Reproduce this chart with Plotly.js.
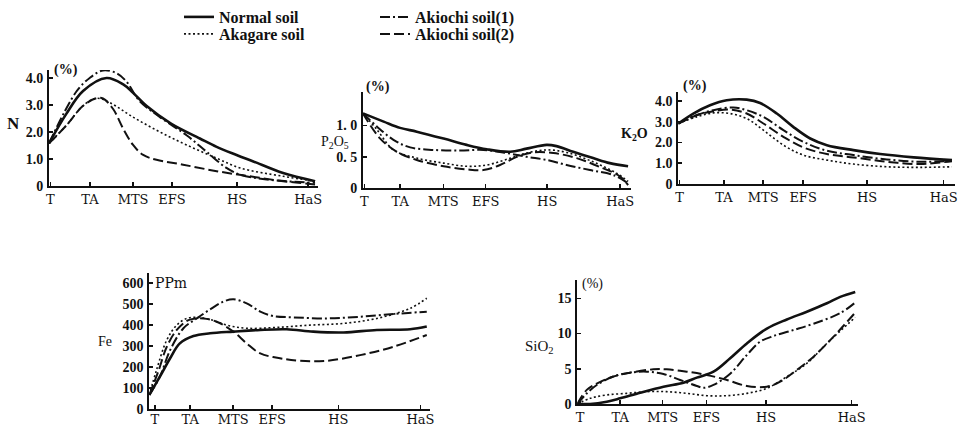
<!DOCTYPE html>
<html>
<head>
<meta charset="utf-8">
<script src="https://cdn.plot.ly/plotly-3.0.1.min.js"></script>
<style>html,body{margin:0;padding:0;background:#fff;}#chart{width:959px;height:429px;}</style>
</head>
<body>
<div id="chart"></div>
<script>
// Growth-stage tick labels and their positions on each panel (stage units, T = 0 … HaS = 10)
const stageLabels = ['T', 'TA', 'MTS', 'EFS', 'HS', 'HaS'];
const nStageTicks = [0.05, 1.54, 3.16, 4.62, 7.07, 9.74];
const pStageTicks = [0.05, 1.4, 3.03, 4.63, 6.95, 9.7];
const kStageTicks = [0.05, 1.67, 3.1, 4.56, 6.9, 9.7];
const feStageTicks = [0.2, 1.47, 3.02, 4.43, 6.81, 9.77];
const siStageTicks = [0.1, 1.54, 3.07, 4.65, 6.79, 9.87];
const seriesNames = ['Normal soil', 'Akagare soil', 'Akiochi soil(1)', 'Akiochi soil(2)'];

// ---- N (%) ----
const nNormalX = [0, 0.65, 1.28, 2.16, 2.79, 3.16, 3.66, 4.6, 5.67, 6.3, 7.05, 7.68, 8.8, 10];
const nNormalY = [1.58, 2.67, 3.52, 4.0, 3.76, 3.45, 2.97, 2.3, 1.76, 1.45, 1.15, 0.91, 0.48, 0.18];
const nAkagareX = [0, 0.65, 1.28, 1.78, 2.28, 3.16, 4.17, 5.17, 6.3, 7.18, 8.8, 10];
const nAkagareY = [1.58, 2.24, 2.97, 3.25, 3.09, 2.55, 2.0, 1.52, 1.03, 0.67, 0.36, 0.18];
const nAkiochi1X = [0, 1.03, 1.53, 2.03, 2.53, 2.9, 3.4, 4.17, 5.17, 5.92, 6.67, 7.18, 8.18, 10];
const nAkiochi1Y = [1.58, 3.5, 4.0, 4.28, 4.18, 3.88, 3.15, 2.55, 1.88, 1.27, 0.67, 0.42, 0.24, 0.12];
const nAkiochi2X = [0, 0.65, 1.28, 1.78, 2.03, 2.41, 2.79, 3.16, 3.54, 4.04, 5.04, 6.3, 7.55, 8.8, 10];
const nAkiochi2Y = [1.58, 2.24, 2.97, 3.25, 3.24, 2.85, 2.12, 1.52, 1.15, 0.97, 0.79, 0.55, 0.36, 0.18, 0.06];

// ---- P2O5 (%) ----
const pNormalX = [0, 0.78, 1.4, 2.03, 3.04, 3.91, 4.67, 5.55, 6.17, 6.93, 7.3, 7.93, 8.68, 9.31, 10];
const pNormalY = [1.19, 1.06, 0.96, 0.9, 0.79, 0.69, 0.62, 0.58, 0.63, 0.69, 0.67, 0.58, 0.48, 0.4, 0.35];
const pAkagareX = [0, 0.53, 1.15, 2.03, 3.04, 3.91, 4.67, 5.42, 6.17, 6.93, 7.68, 8.68, 9.56, 10];
const pAkagareY = [1.19, 0.93, 0.61, 0.48, 0.4, 0.35, 0.37, 0.46, 0.56, 0.61, 0.57, 0.42, 0.24, 0.11];
const pAkiochi1X = [0, 0.53, 1.15, 1.78, 2.66, 3.66, 4.54, 5.42, 6.17, 6.93, 7.68, 8.56, 9.44, 10];
const pAkiochi1Y = [1.19, 0.98, 0.77, 0.65, 0.61, 0.6, 0.61, 0.56, 0.5, 0.45, 0.37, 0.29, 0.21, 0.08];
const pAkiochi2X = [0, 0.65, 1.28, 2.03, 3.04, 3.91, 4.54, 5.17, 5.8, 6.42, 7.18, 8.06, 8.93, 9.69, 10];
const pAkiochi2Y = [1.19, 0.79, 0.58, 0.45, 0.35, 0.3, 0.29, 0.37, 0.5, 0.57, 0.56, 0.48, 0.34, 0.19, 0.05];

// ---- K2O (%) ----
const kNormalX = [0, 0.55, 1.16, 1.77, 2.5, 2.99, 3.6, 4.2, 4.82, 5.43, 6.4, 7.38, 8.6, 10];
const kNormalY = [2.91, 3.39, 3.79, 4.03, 4.06, 3.9, 3.39, 2.75, 2.19, 1.87, 1.63, 1.44, 1.28, 1.15];
const kAkagareX = [0, 0.67, 1.28, 1.89, 2.5, 3.11, 3.84, 4.57, 5.43, 6.4, 7.62, 8.84, 10];
const kAkagareY = [2.91, 3.23, 3.42, 3.39, 3.15, 2.59, 1.87, 1.39, 1.15, 0.96, 0.83, 0.8, 0.83];
const kAkiochi1X = [0, 0.67, 1.28, 2.01, 2.5, 3.11, 3.84, 4.57, 5.43, 6.4, 7.62, 8.84, 10];
const kAkiochi1Y = [2.91, 3.31, 3.55, 3.68, 3.55, 3.23, 2.59, 2.03, 1.6, 1.39, 1.18, 1.07, 1.12];
const kAkiochi2X = [0, 0.67, 1.28, 1.89, 2.5, 3.11, 3.84, 4.57, 5.43, 6.4, 7.62, 8.84, 10];
const kAkiochi2Y = [2.91, 3.31, 3.5, 3.58, 3.39, 2.91, 2.27, 1.76, 1.44, 1.28, 1.07, 0.96, 1.1];

// ---- Fe (ppm) ----
const feNormalX = [0, 0.38, 0.75, 1.1, 1.59, 2.19, 3.03, 4.0, 4.95, 5.91, 7.0, 8.2, 9.4, 10];
const feNormalY = [67, 154, 242, 313, 348, 361, 369, 377, 380, 369, 365, 377, 380, 393];
const feAkagareX = [0, 0.26, 0.63, 0.99, 1.35, 1.71, 2.19, 2.79, 3.51, 4.59, 5.79, 7.0, 8.2, 9.4, 10];
const feAkagareY = [67, 186, 329, 400, 432, 437, 427, 400, 385, 389, 400, 408, 432, 480, 528];
const feAkiochi1X = [0, 0.38, 0.75, 1.23, 1.71, 2.19, 2.67, 3.03, 3.51, 4.0, 4.47, 5.19, 6.39, 7.6, 8.8, 10];
const feAkiochi1Y = [67, 154, 281, 385, 432, 475, 512, 523, 504, 464, 443, 437, 432, 440, 453, 464];
const feAkiochi2X = [0, 0.32, 0.63, 0.99, 1.41, 1.95, 2.43, 3.03, 3.51, 4.0, 4.71, 5.43, 6.39, 7.6, 8.8, 10];
const feAkiochi2Y = [67, 178, 297, 377, 424, 432, 416, 369, 313, 265, 242, 230, 230, 257, 297, 353];

// ---- SiO2 (%) ----
const siNormalX = [0, 0.46, 1.06, 1.54, 2.26, 3.1, 3.82, 4.3, 4.9, 5.5, 6.1, 6.82, 7.54, 8.26, 8.98, 9.46, 10];
const siNormalY = [0, 0, 0.33, 0.8, 1.6, 2.46, 3.03, 3.74, 4.59, 6.5, 8.6, 10.7, 12.0, 13.1, 14.3, 15.2, 15.9];
const siAkagareX = [0, 0.46, 1.06, 1.78, 2.5, 3.22, 3.94, 4.66, 5.38, 6.1, 6.82, 7.54, 8.26, 8.98, 10];
const siAkagareY = [0, 0.8, 1.28, 1.51, 1.75, 1.75, 1.51, 1.18, 1.18, 1.51, 2.22, 3.88, 5.77, 8.6, 12.3];
const siAkiochi1X = [0, 0.34, 0.7, 1.3, 1.9, 2.5, 3.1, 3.7, 4.3, 4.54, 4.9, 5.5, 6.1, 6.58, 7.06, 7.78, 8.5, 9.46, 10];
const siAkiochi1Y = [0, 1.5, 2.7, 3.9, 4.45, 4.59, 4.26, 3.41, 2.56, 2.3, 2.7, 4.3, 6.96, 8.85, 9.65, 10.5, 11.4, 12.9, 14.4];
const siAkiochi2X = [0, 0.34, 0.7, 1.3, 1.9, 2.74, 3.22, 3.94, 4.66, 5.38, 6.1, 6.82, 7.3, 7.9, 8.5, 9.22, 10];
const siAkiochi2Y = [0, 2.0, 2.9, 3.9, 4.45, 4.92, 4.92, 4.59, 4.12, 3.41, 2.56, 2.46, 3.17, 4.83, 6.72, 9.56, 12.97];

// ---- styles ----
const lineStyles = [
  {color: '#111', width: 2.6, dash: 'solid'},
  {color: '#111', width: 1.6, dash: '2px,2.5px'},
  {color: '#111', width: 2, dash: '10px,3px,2px,3px'},
  {color: '#111', width: 2, dash: '10px,4px'}
];
// one legend box per entry so each can sit exactly where the reference has it
const legendOf = ['legend', 'legend2', 'legend3', 'legend4'];

const panels = [
  {xa: 'x', ya: 'y', data: [[nNormalX, nNormalY], [nAkagareX, nAkagareY], [nAkiochi1X, nAkiochi1Y], [nAkiochi2X, nAkiochi2Y]]},
  {xa: 'x2', ya: 'y2', data: [[pNormalX, pNormalY], [pAkagareX, pAkagareY], [pAkiochi1X, pAkiochi1Y], [pAkiochi2X, pAkiochi2Y]]},
  {xa: 'x3', ya: 'y3', data: [[kNormalX, kNormalY], [kAkagareX, kAkagareY], [kAkiochi1X, kAkiochi1Y], [kAkiochi2X, kAkiochi2Y]]},
  {xa: 'x4', ya: 'y4', data: [[feNormalX, feNormalY], [feAkagareX, feAkagareY], [feAkiochi1X, feAkiochi1Y], [feAkiochi2X, feAkiochi2Y]]},
  {xa: 'x5', ya: 'y5', data: [[siNormalX, siNormalY], [siAkagareX, siAkagareY], [siAkiochi1X, siAkiochi1Y], [siAkiochi2X, siAkiochi2Y]]}
];

const traces = [];
panels.forEach((p, pi) => {
  p.data.forEach((d, si) => {
    traces.push({
      type: 'scatter', mode: 'lines',
      x: d[0], y: d[1], xaxis: p.xa, yaxis: p.ya,
      name: seriesNames[si],
      legend: legendOf[si],
      showlegend: pi === 0,
      line: Object.assign({shape: 'spline', smoothing: 1}, lineStyles[si]),
      hoverinfo: 'skip'
    });
  });
});

const serif = 'Liberation Serif, Times New Roman, serif';
const wideSerif = 'DejaVu Serif, serif';
function xAxis(domain, anchor, ticks, standoff) {
  return {
    domain: domain, anchor: anchor, range: [0, 10.1],
    tickmode: 'array', tickvals: ticks, ticktext: stageLabels,
    ticks: 'inside', ticklen: 4, tickwidth: 1.5, tickcolor: '#111',
    showline: true, linewidth: 2, linecolor: '#111',
    showgrid: false, zeroline: false, ticklabelstandoff: standoff,
    tickfont: {family: wideSerif, size: 13, color: '#111'}
  };
}
function yAxis(domain, anchor, range, vals, texts) {
  return {
    domain: domain, anchor: anchor, range: range,
    tickmode: 'array', tickvals: vals, ticktext: texts,
    ticks: 'inside', ticklen: 4, tickwidth: 1.5, tickcolor: '#111',
    showline: true, linewidth: 2, linecolor: '#111',
    showgrid: false, zeroline: false, ticklabelstandoff: 1,
    tickfont: {family: serif, size: 14, color: '#111', weight: 'bold'}
  };
}

function ann(text, px, py, size, bold, family) {
  return {
    text: text, xref: 'paper', yref: 'paper', x: px / 959, y: 1 - py / 429,
    xanchor: 'center', yanchor: 'middle', showarrow: false,
    font: {family: family || serif, size: size, color: '#111', weight: bold ? 'bold' : 'normal'}
  };
}

const legendFont = {family: serif, size: 16, color: '#111', weight: 'bold'};
function legendBox(px, topPx) {
  return {
    x: px / 959, y: 1 - topPx / 429, xanchor: 'left', yanchor: 'top',
    orientation: 'v', bgcolor: 'rgba(0,0,0,0)', borderwidth: 0,
    tracegroupgap: 0, itemwidth: 30, font: legendFont
  };
}

const layout = {
  width: 959, height: 429,
  margin: {l: 0, r: 0, t: 0, b: 0},
  paper_bgcolor: '#fff', plot_bgcolor: 'rgba(0,0,0,0)',
  xaxis: xAxis([0.0511, 0.3313], 'y', nStageTicks, 0),
  yaxis: yAxis([0.5664, 0.8371], 'x', [0, 4.3], [0, 1, 2, 3, 4], ['0', '1.0', '2.0', '3.0', '4.0']),
  xaxis2: xAxis([0.3785, 0.6577], 'y2', pStageTicks, 0),
  yaxis2: yAxis([0.5611, 0.7855], 'x2', [0, 1.53], [0, 0.5, 1], ['0', '0. 5', '1. 0']),
  xaxis3: xAxis([0.7073, 0.9955], 'y3', kStageTicks, 0),
  yaxis3: yAxis([0.5711, 0.7862], 'x3', [0, 4.44], [0, 1, 2, 3, 4], ['0', '1.0', '2.0', '3.0', '4.0']),
  xaxis4: xAxis([0.1557, 0.4479], 'y4', feStageTicks, -3),
  yaxis4: yAxis([0.0466, 0.3629], 'x4', [0, 647], [0, 100, 200, 300, 400, 500, 600], ['0', '100', '200', '300', '400', '500', '600']),
  xaxis5: xAxis([0.602, 0.8947], 'y5', siStageTicks, 0),
  yaxis5: yAxis([0.0583, 0.3473], 'x5', [0, 17.6], [0, 5, 10, 15], ['0', '5', '10', '15']),
  legend: legendBox(179, 0),
  legend2: legendBox(179, 17),
  legend3: legendBox(375, 0),
  legend4: legendBox(375, 17),
  annotations: [
    ann('N', 13, 124, 17, true),
    ann('(%)', 66, 70, 14, true),
    ann('P<sub>2</sub>O<sub>5</sub>', 335, 142, 14, false),
    ann('(%)', 378, 87, 14, true),
    ann('K<sub>2</sub>O', 634, 134, 14, true),
    ann('(%)', 695, 86, 14, true),
    ann('Fe', 105, 341, 14, false),
    ann('PPm', 171, 283, 14, false, wideSerif),
    ann('SiO<sub>2</sub>', 539, 347, 15, false),
    ann('(%)', 592, 284, 14, false)
  ]
};

Plotly.newPlot('chart', traces, layout, {staticPlot: true, displayModeBar: false});
</script>
</body>
</html>
